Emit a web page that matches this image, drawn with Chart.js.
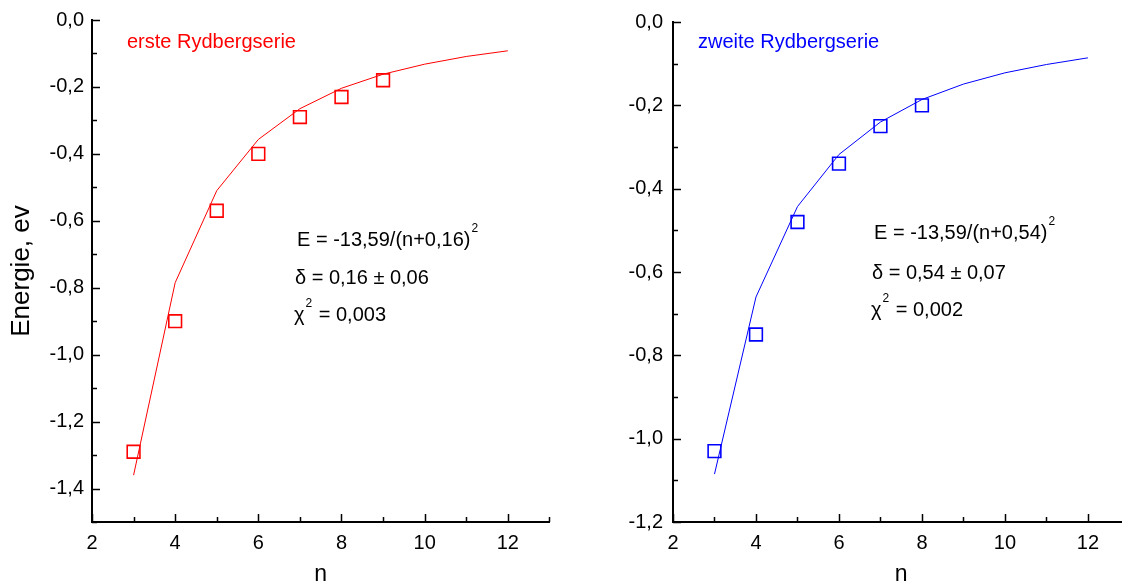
<!DOCTYPE html>
<html>
<head>
<meta charset="utf-8">
<script src="https://cdn.jsdelivr.net/npm/chart.js@4.4.1/dist/chart.umd.min.js"></script>
<style>
  html, body { margin: 0; padding: 0; background: #fff; overflow: hidden; width: 1122px; height: 586px; }
  #left { position: absolute; left: 0; top: 0; }
  #right { position: absolute; left: 560px; top: 0; }
</style>
</head>
<body>
<canvas id="left" width="560" height="586"></canvas>
<canvas id="right" width="580" height="586"></canvas>
<script>
(function () {
  "use strict";

  // n values
  const nFit = [3, 4, 5, 6, 7, 8, 9, 10, 11, 12];
  const nErste = [3, 4, 5, 6, 7, 8, 9];
  const nZweite = [3, 4, 5, 6, 7, 8];

  // measured energies (eV)
  const eErste = [-1.29, -0.90, -0.57, -0.40, -0.29, -0.23, -0.18];
  const eZweite = [-1.03, -0.75, -0.48, -0.34, -0.25, -0.20];

  // fitted curves
  const fitErste = [-1.36, -0.785, -0.51, -0.357, -0.265, -0.204, -0.162, -0.132, -0.109, -0.092];
  const fitZweite = [-1.085, -0.66, -0.443, -0.318, -0.24, -0.186, -0.149, -0.122, -0.102, -0.086];

  // tick labels
  const xTickLabels = [2, 4, 6, 8, 10, 12];
  const yTickLabelsErste = [0, -0.2, -0.4, -0.6, -0.8, -1.0, -1.2, -1.4];
  const yTickLabelsZweite = [0, -0.2, -0.4, -0.6, -0.8, -1.0, -1.2];

  const FONT = 'Arial, "Liberation Sans", sans-serif';
  Chart.defaults.font.family = FONT;
  Chart.defaults.color = "#000";

  function pts(xs, ys) {
    return xs.map(function (x, i) { return { x: x, y: ys[i] }; });
  }

  function fmt(v) {
    return v.toFixed(1).replace(".", ",");
  }

  function yCallback(labels) {
    const keys = labels.map(function (l) { return Math.round(l * 10); });
    return function (v) {
      return keys.indexOf(Math.round(v * 10)) >= 0 ? fmt(v) : "";
    };
  }

  function xCallback(v) {
    return xTickLabels.indexOf(v) >= 0 ? String(v) : "";
  }

  // inward tick marks, long where a label sits, short otherwise
  const tickMarks = {
    id: "tickMarks",
    afterDraw(chart) {
      const ctx = chart.ctx;
      const area = chart.chartArea;
      const xs = chart.scales.x;
      const ys = chart.scales.y;
      ctx.save();
      ctx.strokeStyle = "#000";
      ctx.lineWidth = 1.5;
      ctx.beginPath();
      xs.ticks.forEach(function (t) {
        if (!Number.isInteger(t.value)) return;
        const px = Math.round(xs.getPixelForValue(t.value)) + 0.5;
        const len = t.label ? 8 : 5;
        ctx.moveTo(px, area.bottom);
        ctx.lineTo(px, area.bottom - len);
      });
      ys.ticks.forEach(function (t) {
        const py = Math.round(ys.getPixelForValue(t.value)) + 0.5;
        const len = t.label ? 8 : 5;
        ctx.moveTo(area.left, py);
        ctx.lineTo(area.left + len, py);
      });
      ctx.stroke();
      ctx.restore();
    },
  };

  // free text inside the plot
  const notes = {
    id: "notes",
    afterDraw(chart, args, opts) {
      const ctx = chart.ctx;
      ctx.save();
      ctx.textBaseline = "middle";
      ctx.textAlign = "left";
      (opts.items || []).forEach(function (it) {
        const main = "20px " + FONT;
        ctx.fillStyle = it.color || "#000";
        ctx.font = main;
        ctx.fillText(it.text, it.x, it.y);
        let cx = it.x + ctx.measureText(it.text).width;
        if (it.sup) {
          ctx.font = "12px " + FONT;
          ctx.fillText(it.sup, cx + 1, it.y - 11);
          cx += 2 + ctx.measureText(it.sup).width;
          ctx.font = main;
        }
        if (it.after) ctx.fillText(it.after, cx, it.y);
      });
      ctx.restore();
    },
  };

  function makeChart(id, o) {
    return new Chart(document.getElementById(id), {
      type: "scatter",
      data: {
        datasets: [
          {
            data: pts(nFit, o.fit),
            showLine: true,
            borderColor: o.color,
            borderWidth: 1,
            pointRadius: 0,
            tension: 0,
          },
          {
            data: pts(o.n, o.e),
            showLine: false,
            pointStyle: "rect",
            pointRadius: 9,
            pointBorderWidth: 1.6,
            pointBorderColor: o.color,
            pointBackgroundColor: "rgba(0,0,0,0)",
          },
        ],
      },
      options: {
        responsive: false,
        animation: false,
        devicePixelRatio: 1,
        layout: { padding: { top: 18, right: o.padRight, bottom: 0, left: 0 } },
        plugins: {
          legend: { display: false },
          tooltip: { enabled: false },
          notes: { items: o.notes },
        },
        scales: {
          x: {
            type: "linear",
            min: 2,
            max: 13,
            afterFit(s) { s.height = 64; },
            border: { display: true, color: "#000", width: 2 },
            grid: { drawOnChartArea: false, drawTicks: false },
            ticks: {
              stepSize: 1,
              autoSkip: false,
              maxRotation: 0,
              padding: 9,
              font: { size: 20 },
              callback: xCallback,
            },
            title: {
              display: true,
              text: "n",
              font: { size: 23, lineHeight: 1 },
              padding: { top: 0, bottom: 0 },
            },
          },
          y: {
            type: "linear",
            min: o.yMin,
            max: 0,
            afterFit(s) { s.width = o.yWidth; },
            border: { display: true, color: "#000", width: 2 },
            grid: { drawOnChartArea: false, drawTicks: false },
            ticks: {
              stepSize: 0.1,
              autoSkip: false,
              maxTicksLimit: 100,
              padding: o.yPad,
              font: { size: 20 },
              callback: yCallback(o.yLabels),
            },
            title: {
              display: !!o.yTitle,
              text: o.yTitle || "",
              font: { size: 26, lineHeight: 1 },
              padding: { top: 9, bottom: 0 },
            },
          },
        },
      },
      plugins: [tickMarks, notes],
    });
  }

  makeChart("left", {
    color: "#ff0000",
    n: nErste,
    e: eErste,
    fit: fitErste,
    yMin: -1.5,
    yLabels: yTickLabelsErste,
    yWidth: 92,
    yPad: 8,
    padRight: 10,
    yTitle: "Energie, ev",
    notes: [
      { x: 127, y: 42, text: "erste Rydbergserie", color: "#ff0000" },
      { x: 297, y: 240, text: "E = -13,59/(n+0,16)", sup: "2" },
      { x: 295, y: 278, text: "δ = 0,16 ± 0,06" },
      { x: 294, y: 315, text: "χ", sup: "2", after: " = 0,003" },
    ],
  });

  makeChart("right", {
    color: "#0000ff",
    n: nZweite,
    e: eZweite,
    fit: fitZweite,
    yMin: -1.2,
    yLabels: yTickLabelsZweite,
    yWidth: 113,
    yPad: 10,
    padRight: 10,
    yTitle: "",
    notes: [
      { x: 138, y: 42, text: "zweite Rydbergserie", color: "#0000ff" },
      { x: 314, y: 233, text: "E = -13,59/(n+0,54)", sup: "2" },
      { x: 312, y: 273, text: "δ = 0,54 ± 0,07" },
      { x: 311, y: 310, text: "χ", sup: "2", after: " = 0,002" },
    ],
  });
})();
</script>
</body>
</html>
